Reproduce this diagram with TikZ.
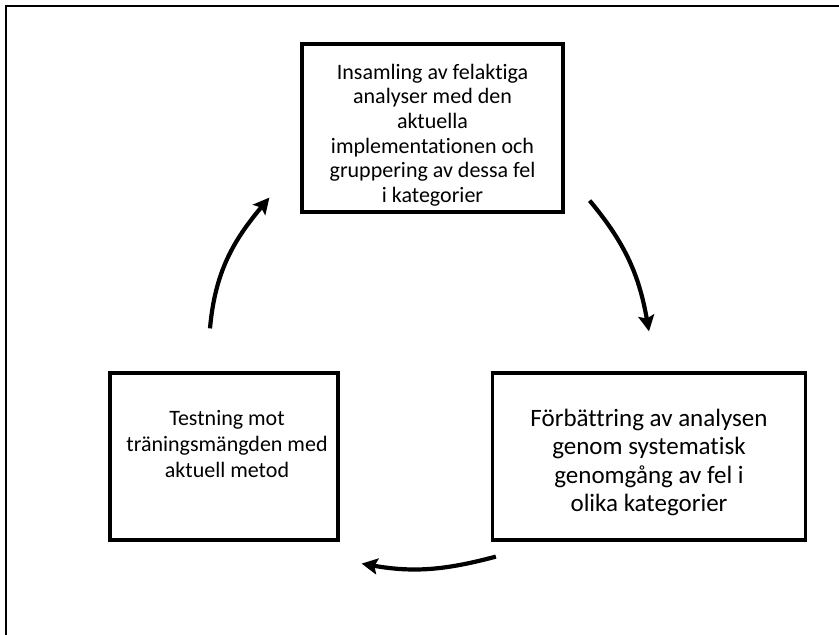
\documentclass[tikz,border=0pt]{standalone}
\usepackage{fontspec}
\setmainfont{Carlito}[Ligatures=NoCommon]
\usetikzlibrary{arrows.meta}
\begin{document}
\begin{tikzpicture}[x=1bp,y=1bp,
  stagebox/.style={draw=black,line width=3.2bp,inner sep=0pt},
  stagetext/.style={align=center,inner sep=0pt},
  cyclearrow/.style={line width=4.2bp,-{Stealth[length=16bp,width=16bp,inset=3bp]}}]
\useasboundingbox (0,0) rectangle (839,635);
% frame
\draw[line width=2.4bp] (6,0) -- (6,629) -- (839,629);
% stage boxes
\node[stagebox,minimum width=261bp,minimum height=168bp] (collect) at (432.5,507) {};
\node[stagebox,minimum width=313bp,minimum height=167bp] (improve) at (649,178.5) {};
\node[stagebox,minimum width=228bp,minimum height=167bp] (test) at (224,178.5) {};
% stage texts
\node[stagetext,font=\fontsize{22bp}{24.6bp}\selectfont] (collecttext)
  at ([shift={(0,-7)}]collect.center)
  {Insamling av felaktiga\\analyser med den\\aktuella\\implementationen och\\gruppering av dessa fel\\i kategorier};
\node[stagetext,font=\fontsize{25bp}{28.4bp}\selectfont] (improvetext)
  at ([shift={(0,-6)}]improve.center)
  {Förbättring av analysen\\genom systematisk\\genomgång av fel i\\olika kategorier};
\node[stagetext,font=\fontsize{22bp}{26bp}\selectfont] (testtext)
  at ([shift={(3,12)}]test.center)
  {Testning mot\\träningsmängden med\\aktuell metod};
% arrow ends beside the boxes
\coordinate (a1s) at ([shift={(25,13)}]collect.south east);
\coordinate (a1e) at ([shift={(0,40)}]improve.north);
\coordinate (a2s) at ([shift={(5,-15)}]improve.south west);
\coordinate (a2e) at ([shift={(22,-22)}]test.south east);
\coordinate (a3s) at ([shift={(-14,43)}]test.north);
\coordinate (a3e) at ([shift={(-31,16)}]collect.south west);
\draw[cyclearrow] (a1s) to[out=-50,in=100] (a1e);
\draw[cyclearrow] (a2s) to[out=195,in=-10] (a2e);
\draw[cyclearrow] (a3s) to[out=85,in=230] (a3e);
\end{tikzpicture}
\end{document}
